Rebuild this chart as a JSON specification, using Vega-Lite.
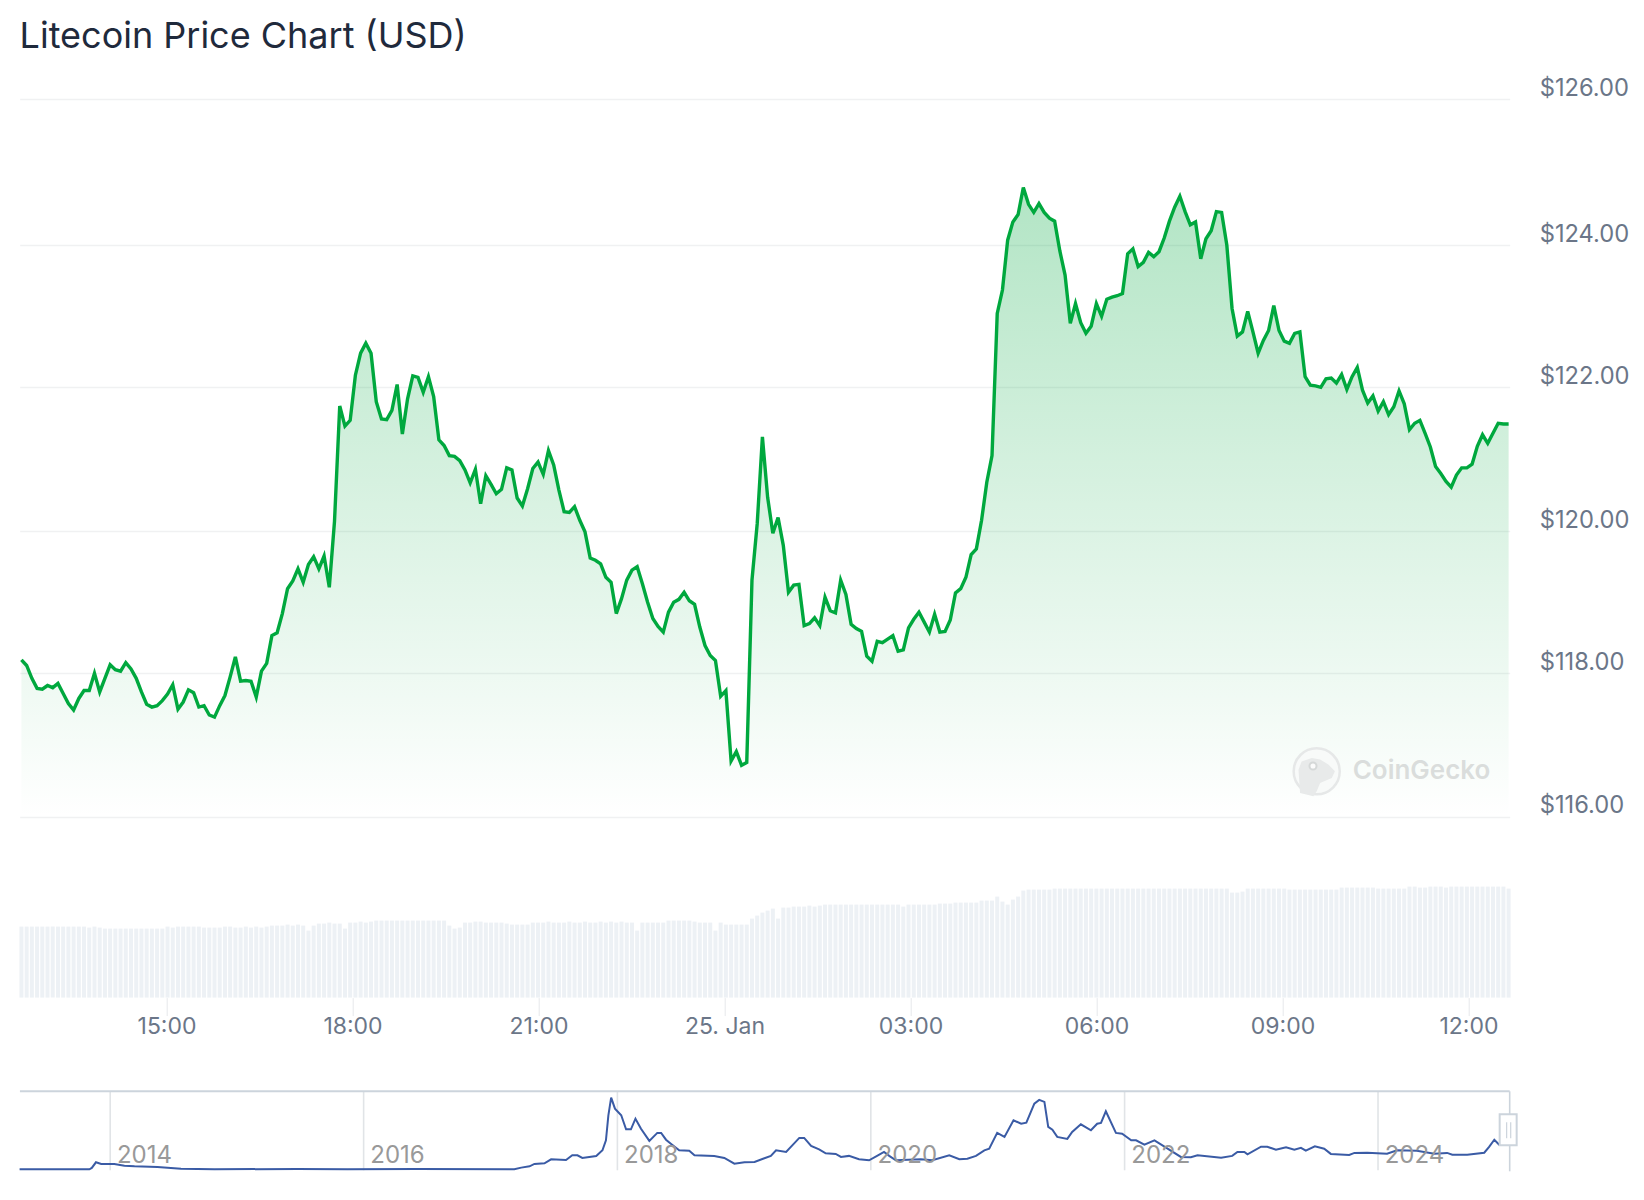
{"$schema":"https://vega.github.io/schema/vega-lite/v6.json","background":"white","padding":{"left":13.7,"top":19,"right":0,"bottom":0},"bounds":"flush","spacing":55.6,"config":{"view":{"stroke":null},"font":"Inter"},"title":{"text":"Litecoin Price Chart (USD)","anchor":"start","font":"Inter","fontSize":36,"fontWeight":400,"color":"#1f2a3c","offset":20,"dx":5},"datasets":{"prices":[
{"t":1737722376000,"price":118.19,"volume":0.71},{"t":1737722679000,"price":118.11,"volume":0.71},{"t":1737722982000,"price":117.93,"volume":0.71},{"t":1737723285000,"price":117.79,"volume":0.71},{"t":1737723588000,"price":117.78,"volume":0.71},{"t":1737723891000,"price":117.83,"volume":0.71},{"t":1737724194000,"price":117.8,"volume":0.71},{"t":1737724497000,"price":117.86,"volume":0.71},{"t":1737724800000,"price":117.72,"volume":0.71},{"t":1737725103000,"price":117.58,"volume":0.71},
{"t":1737725406000,"price":117.49,"volume":0.71},{"t":1737725709000,"price":117.65,"volume":0.71},{"t":1737726012000,"price":117.76,"volume":0.71},{"t":1737726315000,"price":117.76,"volume":0.7},{"t":1737726618000,"price":118.0,"volume":0.71},{"t":1737726921000,"price":117.74,"volume":0.7},{"t":1737727224000,"price":117.93,"volume":0.69},{"t":1737727527000,"price":118.12,"volume":0.69},{"t":1737727830000,"price":118.05,"volume":0.69},{"t":1737728133000,"price":118.03,"volume":0.69},
{"t":1737728436000,"price":118.15,"volume":0.69},{"t":1737728739000,"price":118.06,"volume":0.69},{"t":1737729042000,"price":117.93,"volume":0.69},{"t":1737729345000,"price":117.74,"volume":0.69},{"t":1737729648000,"price":117.57,"volume":0.69},{"t":1737729951000,"price":117.53,"volume":0.69},{"t":1737730254000,"price":117.55,"volume":0.69},{"t":1737730557000,"price":117.62,"volume":0.69},{"t":1737730860000,"price":117.71,"volume":0.71},{"t":1737731163000,"price":117.84,"volume":0.7},
{"t":1737731466000,"price":117.5,"volume":0.71},{"t":1737731769000,"price":117.6,"volume":0.71},{"t":1737732072000,"price":117.77,"volume":0.71},{"t":1737732375000,"price":117.73,"volume":0.71},{"t":1737732678000,"price":117.53,"volume":0.71},{"t":1737732981000,"price":117.55,"volume":0.7},{"t":1737733284000,"price":117.42,"volume":0.7},{"t":1737733587000,"price":117.39,"volume":0.7},{"t":1737733890000,"price":117.55,"volume":0.7},{"t":1737734193000,"price":117.69,"volume":0.71},
{"t":1737734496000,"price":117.95,"volume":0.71},{"t":1737734799000,"price":118.23,"volume":0.7},{"t":1737735102000,"price":117.89,"volume":0.7},{"t":1737735405000,"price":117.9,"volume":0.71},{"t":1737735708000,"price":117.89,"volume":0.7},{"t":1737736011000,"price":117.67,"volume":0.71},{"t":1737736314000,"price":118.03,"volume":0.7},{"t":1737736617000,"price":118.14,"volume":0.71},{"t":1737736920000,"price":118.53,"volume":0.72},{"t":1737737223000,"price":118.57,"volume":0.72},
{"t":1737737526000,"price":118.84,"volume":0.72},{"t":1737737829000,"price":119.19,"volume":0.73},{"t":1737738132000,"price":119.3,"volume":0.72},{"t":1737738435000,"price":119.47,"volume":0.73},{"t":1737738738000,"price":119.28,"volume":0.72},{"t":1737739041000,"price":119.53,"volume":0.67},{"t":1737739344000,"price":119.64,"volume":0.72},{"t":1737739647000,"price":119.47,"volume":0.74},{"t":1737739950000,"price":119.65,"volume":0.74},{"t":1737740253000,"price":119.21,"volume":0.75},
{"t":1737740556000,"price":120.14,"volume":0.74},{"t":1737740859000,"price":121.74,"volume":0.74},{"t":1737741162000,"price":121.46,"volume":0.69},{"t":1737741465000,"price":121.54,"volume":0.75},{"t":1737741768000,"price":122.17,"volume":0.75},{"t":1737742071000,"price":122.48,"volume":0.76},{"t":1737742374000,"price":122.62,"volume":0.75},{"t":1737742677000,"price":122.48,"volume":0.76},{"t":1737742980000,"price":121.8,"volume":0.77},{"t":1737743283000,"price":121.56,"volume":0.77},
{"t":1737743586000,"price":121.55,"volume":0.77},{"t":1737743889000,"price":121.68,"volume":0.77},{"t":1737744192000,"price":122.04,"volume":0.77},{"t":1737744495000,"price":121.35,"volume":0.77},{"t":1737744798000,"price":121.84,"volume":0.77},{"t":1737745101000,"price":122.16,"volume":0.77},{"t":1737745404000,"price":122.14,"volume":0.77},{"t":1737745707000,"price":121.93,"volume":0.77},{"t":1737746010000,"price":122.15,"volume":0.77},{"t":1737746313000,"price":121.87,"volume":0.77},
{"t":1737746616000,"price":121.27,"volume":0.77},{"t":1737746919000,"price":121.19,"volume":0.77},{"t":1737747222000,"price":121.05,"volume":0.72},{"t":1737747525000,"price":121.04,"volume":0.69},{"t":1737747828000,"price":120.98,"volume":0.7},{"t":1737748131000,"price":120.85,"volume":0.75},{"t":1737748434000,"price":120.67,"volume":0.75},{"t":1737748737000,"price":120.86,"volume":0.76},{"t":1737749040000,"price":120.38,"volume":0.76},{"t":1737749343000,"price":120.77,"volume":0.75},
{"t":1737749646000,"price":120.65,"volume":0.75},{"t":1737749949000,"price":120.52,"volume":0.75},{"t":1737750252000,"price":120.58,"volume":0.75},{"t":1737750555000,"price":120.88,"volume":0.74},{"t":1737750858000,"price":120.85,"volume":0.73},{"t":1737751161000,"price":120.46,"volume":0.73},{"t":1737751464000,"price":120.35,"volume":0.73},{"t":1737751767000,"price":120.59,"volume":0.73},{"t":1737752070000,"price":120.87,"volume":0.75},{"t":1737752373000,"price":120.96,"volume":0.75},
{"t":1737752676000,"price":120.79,"volume":0.75},{"t":1737752979000,"price":121.12,"volume":0.76},{"t":1737753282000,"price":120.92,"volume":0.75},{"t":1737753585000,"price":120.57,"volume":0.75},{"t":1737753888000,"price":120.27,"volume":0.75},{"t":1737754191000,"price":120.26,"volume":0.76},{"t":1737754494000,"price":120.34,"volume":0.75},{"t":1737754797000,"price":120.15,"volume":0.75},{"t":1737755100000,"price":119.99,"volume":0.76},{"t":1737755403000,"price":119.62,"volume":0.75},
{"t":1737755706000,"price":119.59,"volume":0.75},{"t":1737756009000,"price":119.54,"volume":0.76},{"t":1737756312000,"price":119.35,"volume":0.75},{"t":1737756615000,"price":119.28,"volume":0.76},{"t":1737756918000,"price":118.84,"volume":0.75},{"t":1737757221000,"price":119.05,"volume":0.76},{"t":1737757524000,"price":119.31,"volume":0.75},{"t":1737757827000,"price":119.45,"volume":0.75},{"t":1737758130000,"price":119.5,"volume":0.67},{"t":1737758433000,"price":119.26,"volume":0.75},
{"t":1737758736000,"price":119.0,"volume":0.75},{"t":1737759039000,"price":118.77,"volume":0.75},{"t":1737759342000,"price":118.66,"volume":0.75},{"t":1737759645000,"price":118.58,"volume":0.75},{"t":1737759948000,"price":118.86,"volume":0.77},{"t":1737760251000,"price":119.0,"volume":0.77},{"t":1737760554000,"price":119.04,"volume":0.77},{"t":1737760857000,"price":119.14,"volume":0.77},{"t":1737761160000,"price":119.02,"volume":0.77},{"t":1737761463000,"price":118.97,"volume":0.76},
{"t":1737761766000,"price":118.65,"volume":0.75},{"t":1737762069000,"price":118.39,"volume":0.75},{"t":1737762372000,"price":118.25,"volume":0.75},{"t":1737762675000,"price":118.18,"volume":0.67},{"t":1737762978000,"price":117.68,"volume":0.75},{"t":1737763281000,"price":117.76,"volume":0.73},{"t":1737763584000,"price":116.78,"volume":0.73},{"t":1737763887000,"price":116.91,"volume":0.73},{"t":1737764190000,"price":116.72,"volume":0.73},{"t":1737764493000,"price":116.76,"volume":0.73},
{"t":1737764796000,"price":119.31,"volume":0.79},{"t":1737765099000,"price":120.1,"volume":0.82},{"t":1737765402000,"price":121.31,"volume":0.85},{"t":1737765705000,"price":120.47,"volume":0.87},{"t":1737766008000,"price":119.97,"volume":0.89},{"t":1737766311000,"price":120.19,"volume":0.79},{"t":1737766614000,"price":119.8,"volume":0.9},{"t":1737766917000,"price":119.14,"volume":0.9},{"t":1737767220000,"price":119.24,"volume":0.91},{"t":1737767523000,"price":119.25,"volume":0.91},
{"t":1737767826000,"price":118.67,"volume":0.91},{"t":1737768129000,"price":118.7,"volume":0.92},{"t":1737768432000,"price":118.78,"volume":0.91},{"t":1737768735000,"price":118.67,"volume":0.92},{"t":1737769038000,"price":119.07,"volume":0.93},{"t":1737769341000,"price":118.88,"volume":0.93},{"t":1737769644000,"price":118.85,"volume":0.93},{"t":1737769947000,"price":119.31,"volume":0.93},{"t":1737770250000,"price":119.11,"volume":0.93},{"t":1737770553000,"price":118.69,"volume":0.93},
{"t":1737770856000,"price":118.63,"volume":0.93},{"t":1737771159000,"price":118.59,"volume":0.93},{"t":1737771462000,"price":118.24,"volume":0.93},{"t":1737771765000,"price":118.17,"volume":0.93},{"t":1737772068000,"price":118.45,"volume":0.93},{"t":1737772371000,"price":118.43,"volume":0.93},{"t":1737772674000,"price":118.48,"volume":0.93},{"t":1737772977000,"price":118.53,"volume":0.93},{"t":1737773280000,"price":118.31,"volume":0.93},{"t":1737773583000,"price":118.33,"volume":0.91},
{"t":1737773886000,"price":118.64,"volume":0.93},{"t":1737774189000,"price":118.76,"volume":0.93},{"t":1737774492000,"price":118.86,"volume":0.93},{"t":1737774795000,"price":118.72,"volume":0.93},{"t":1737775098000,"price":118.58,"volume":0.93},{"t":1737775401000,"price":118.83,"volume":0.93},{"t":1737775704000,"price":118.58,"volume":0.94},{"t":1737776007000,"price":118.59,"volume":0.94},{"t":1737776310000,"price":118.75,"volume":0.94},{"t":1737776613000,"price":119.13,"volume":0.95},
{"t":1737776916000,"price":119.19,"volume":0.95},{"t":1737777219000,"price":119.35,"volume":0.95},{"t":1737777522000,"price":119.67,"volume":0.95},{"t":1737777825000,"price":119.75,"volume":0.95},{"t":1737778128000,"price":120.15,"volume":0.97},{"t":1737778431000,"price":120.68,"volume":0.97},{"t":1737778734000,"price":121.05,"volume":0.97},{"t":1737779037000,"price":123.04,"volume":1.01},{"t":1737779340000,"price":123.37,"volume":0.96},{"t":1737779643000,"price":124.07,"volume":0.93},
{"t":1737779946000,"price":124.32,"volume":0.98},{"t":1737780249000,"price":124.42,"volume":1.01},{"t":1737780552000,"price":124.79,"volume":1.07},{"t":1737780855000,"price":124.56,"volume":1.08},{"t":1737781158000,"price":124.45,"volume":1.08},{"t":1737781461000,"price":124.57,"volume":1.08},{"t":1737781764000,"price":124.45,"volume":1.08},{"t":1737782067000,"price":124.37,"volume":1.08},{"t":1737782370000,"price":124.33,"volume":1.09},{"t":1737782673000,"price":123.92,"volume":1.09},
{"t":1737782976000,"price":123.58,"volume":1.09},{"t":1737783279000,"price":122.9,"volume":1.09},{"t":1737783582000,"price":123.18,"volume":1.09},{"t":1737783885000,"price":122.91,"volume":1.09},{"t":1737784188000,"price":122.76,"volume":1.09},{"t":1737784491000,"price":122.86,"volume":1.09},{"t":1737784794000,"price":123.18,"volume":1.09},{"t":1737785097000,"price":123.0,"volume":1.09},{"t":1737785400000,"price":123.24,"volume":1.09},{"t":1737785703000,"price":123.27,"volume":1.09},
{"t":1737786006000,"price":123.29,"volume":1.09},{"t":1737786309000,"price":123.32,"volume":1.09},{"t":1737786612000,"price":123.88,"volume":1.09},{"t":1737786915000,"price":123.95,"volume":1.09},{"t":1737787218000,"price":123.7,"volume":1.09},{"t":1737787521000,"price":123.76,"volume":1.09},{"t":1737787824000,"price":123.9,"volume":1.09},{"t":1737788127000,"price":123.84,"volume":1.09},{"t":1737788430000,"price":123.91,"volume":1.09},{"t":1737788733000,"price":124.1,"volume":1.09},
{"t":1737789036000,"price":124.33,"volume":1.09},{"t":1737789339000,"price":124.52,"volume":1.09},{"t":1737789642000,"price":124.67,"volume":1.09},{"t":1737789945000,"price":124.46,"volume":1.09},{"t":1737790248000,"price":124.28,"volume":1.09},{"t":1737790551000,"price":124.32,"volume":1.09},{"t":1737790854000,"price":123.81,"volume":1.09},{"t":1737791157000,"price":124.09,"volume":1.09},{"t":1737791460000,"price":124.2,"volume":1.09},{"t":1737791763000,"price":124.46,"volume":1.09},
{"t":1737792066000,"price":124.45,"volume":1.09},{"t":1737792369000,"price":124.0,"volume":1.09},{"t":1737792672000,"price":123.11,"volume":1.05},{"t":1737792975000,"price":122.72,"volume":1.05},{"t":1737793278000,"price":122.78,"volume":1.06},{"t":1737793581000,"price":123.07,"volume":1.09},{"t":1737793884000,"price":122.78,"volume":1.09},{"t":1737794187000,"price":122.48,"volume":1.09},{"t":1737794490000,"price":122.66,"volume":1.09},{"t":1737794793000,"price":122.8,"volume":1.09},
{"t":1737795096000,"price":123.15,"volume":1.09},{"t":1737795399000,"price":122.8,"volume":1.09},{"t":1737795702000,"price":122.65,"volume":1.09},{"t":1737796005000,"price":122.62,"volume":1.08},{"t":1737796308000,"price":122.76,"volume":1.08},{"t":1737796611000,"price":122.78,"volume":1.08},{"t":1737796914000,"price":122.15,"volume":1.08},{"t":1737797217000,"price":122.03,"volume":1.08},{"t":1737797520000,"price":122.02,"volume":1.08},{"t":1737797823000,"price":122.0,"volume":1.08},
{"t":1737798126000,"price":122.12,"volume":1.08},{"t":1737798429000,"price":122.13,"volume":1.08},{"t":1737798732000,"price":122.06,"volume":1.08},{"t":1737799035000,"price":122.18,"volume":1.1},{"t":1737799338000,"price":121.97,"volume":1.1},{"t":1737799641000,"price":122.15,"volume":1.1},{"t":1737799944000,"price":122.28,"volume":1.1},{"t":1737800247000,"price":121.96,"volume":1.1},{"t":1737800550000,"price":121.78,"volume":1.1},{"t":1737800853000,"price":121.88,"volume":1.1},
{"t":1737801156000,"price":121.67,"volume":1.09},{"t":1737801459000,"price":121.8,"volume":1.09},{"t":1737801762000,"price":121.62,"volume":1.09},{"t":1737802065000,"price":121.73,"volume":1.09},{"t":1737802368000,"price":121.95,"volume":1.09},{"t":1737802671000,"price":121.77,"volume":1.09},{"t":1737802974000,"price":121.41,"volume":1.11},{"t":1737803277000,"price":121.5,"volume":1.11},{"t":1737803580000,"price":121.54,"volume":1.1},{"t":1737803883000,"price":121.36,"volume":1.1},
{"t":1737804186000,"price":121.17,"volume":1.11},{"t":1737804489000,"price":120.9,"volume":1.11},{"t":1737804792000,"price":120.8,"volume":1.11},{"t":1737805095000,"price":120.69,"volume":1.1},{"t":1737805398000,"price":120.61,"volume":1.11},{"t":1737805701000,"price":120.78,"volume":1.11},{"t":1737806004000,"price":120.88,"volume":1.11},{"t":1737806307000,"price":120.88,"volume":1.11},{"t":1737806610000,"price":120.93,"volume":1.11},{"t":1737806913000,"price":121.18,"volume":1.11},
{"t":1737807216000,"price":121.34,"volume":1.11},{"t":1737807519000,"price":121.22,"volume":1.11},{"t":1737807822000,"price":121.36,"volume":1.11},{"t":1737808125000,"price":121.5,"volume":1.11},{"t":1737808428000,"price":121.49,"volume":1.11},{"t":1737808731000,"price":121.49,"volume":1.09}
],"history":[
{"date":"2013-04-15","usd":3},{"date":"2013-11-02","usd":3},{"date":"2013-11-09","usd":9.7},{"date":"2013-11-21","usd":38},{"date":"2013-12-06","usd":29.7},{"date":"2014-01-13","usd":29.7},{"date":"2014-02-11","usd":21.3},{"date":"2014-03-12","usd":18},{"date":"2014-05-17","usd":14.7},{"date":"2014-07-24","usd":6.3},{"date":"2014-10-28","usd":3},{"date":"2015-06-24","usd":4.7},{"date":"2015-11-15","usd":3},{"date":"2016-06-03","usd":4.7},{"date":"2017-03-10","usd":3},{"date":"2017-03-30","usd":11.3},{"date":"2017-04-23","usd":18},{"date":"2017-05-07","usd":29.7},{"date":"2017-06-05","usd":33},{"date":"2017-06-24","usd":53},{"date":"2017-08-06","usd":49.7},{"date":"2017-08-24","usd":73},{"date":"2017-09-08","usd":73},{"date":"2017-09-22","usd":59.7},{"date":"2017-11-01","usd":69.7},{"date":"2017-11-19","usd":98},{"date":"2017-11-29","usd":148},{"date":"2017-12-06","usd":273},{"date":"2017-12-14","usd":361},{"date":"2017-12-25","usd":306},{"date":"2018-01-12","usd":273},{"date":"2018-01-26","usd":203},{"date":"2018-02-09","usd":203},{"date":"2018-02-22","usd":256},{"date":"2018-03-10","usd":206},{"date":"2018-04-03","usd":145},{"date":"2018-04-26","usd":185},{"date":"2018-05-07","usd":185},{"date":"2018-05-21","usd":151},{"date":"2018-06-04","usd":131},{"date":"2018-06-28","usd":98},{"date":"2018-07-27","usd":96},{"date":"2018-08-11","usd":73},{"date":"2018-10-07","usd":70},{"date":"2018-11-05","usd":60},{"date":"2018-12-04","usd":31},{"date":"2019-01-02","usd":38},{"date":"2019-01-31","usd":40},{"date":"2019-03-19","usd":70},{"date":"2019-04-03","usd":98},{"date":"2019-05-02","usd":90},{"date":"2019-06-09","usd":160},{"date":"2019-06-23","usd":160},{"date":"2019-07-13","usd":120},{"date":"2019-08-05","usd":103},{"date":"2019-08-24","usd":83},{"date":"2019-09-22","usd":80},{"date":"2019-10-07","usd":65},{"date":"2019-10-30","usd":70},{"date":"2019-11-28","usd":53},{"date":"2019-12-27","usd":48},{"date":"2020-01-19","usd":70},{"date":"2020-02-08","usd":90},{"date":"2020-02-23","usd":70},{"date":"2020-03-13","usd":48},{"date":"2020-05-24","usd":53},{"date":"2020-06-26","usd":48},{"date":"2020-08-14","usd":73},{"date":"2020-09-12","usd":53},{"date":"2020-10-05","usd":56},{"date":"2020-10-30","usd":70},{"date":"2020-11-23","usd":98},{"date":"2020-12-07","usd":106},{"date":"2020-12-30","usd":185},{"date":"2021-01-20","usd":165},{"date":"2021-02-15","usd":248},{"date":"2021-03-09","usd":231},{"date":"2021-03-24","usd":236},{"date":"2021-04-16","usd":331},{"date":"2021-04-30","usd":350},{"date":"2021-05-15","usd":340},{"date":"2021-05-26","usd":215},{"date":"2021-06-07","usd":201},{"date":"2021-06-21","usd":165},{"date":"2021-07-20","usd":155},{"date":"2021-08-03","usd":190},{"date":"2021-08-28","usd":228},{"date":"2021-09-26","usd":198},{"date":"2021-10-14","usd":231},{"date":"2021-10-25","usd":235},{"date":"2021-11-08","usd":293},{"date":"2021-12-07","usd":185},{"date":"2021-12-25","usd":181},{"date":"2022-01-20","usd":148},{"date":"2022-02-03","usd":148},{"date":"2022-02-27","usd":126},{"date":"2022-03-28","usd":148},{"date":"2022-04-20","usd":123},{"date":"2022-06-12","usd":65},{"date":"2022-07-11","usd":63},{"date":"2022-07-30","usd":73},{"date":"2022-10-06","usd":61},{"date":"2022-11-07","usd":70},{"date":"2022-11-22","usd":90},{"date":"2022-12-12","usd":90},{"date":"2022-12-21","usd":78},{"date":"2023-01-29","usd":116},{"date":"2023-02-16","usd":116},{"date":"2023-03-13","usd":101},{"date":"2023-04-11","usd":113},{"date":"2023-05-05","usd":101},{"date":"2023-05-24","usd":110},{"date":"2023-06-07","usd":96},{"date":"2023-07-03","usd":118},{"date":"2023-07-30","usd":106},{"date":"2023-08-18","usd":80},{"date":"2023-10-10","usd":75},{"date":"2023-10-25","usd":85},{"date":"2023-12-01","usd":86},{"date":"2024-01-27","usd":81},{"date":"2024-02-25","usd":98},{"date":"2024-04-22","usd":96},{"date":"2024-06-11","usd":81},{"date":"2024-07-18","usd":85},{"date":"2024-08-02","usd":76},{"date":"2024-09-14","usd":76},{"date":"2024-11-02","usd":86},{"date":"2024-11-16","usd":115},{"date":"2024-12-01","usd":151},{"date":"2024-12-15","usd":126},{"date":"2025-01-11","usd":126}
],"years":[{"date":"2014-01-01","label":"2014"},{"date":"2016-01-01","label":"2016"},{"date":"2018-01-01","label":"2018"},{"date":"2020-01-01","label":"2020"},{"date":"2022-01-01","label":"2022"},{"date":"2024-01-01","label":"2024"}]},
"vconcat":[
{"width":1490,"height":718,"encoding":{"x":{"field":"t","type":"temporal","scale":{"type":"utc","domain":[1737722276000,1737808793000]},"axis":null},"y":{"field":"price","type":"quantitative","scale":{"domain":[116,118,120,122,124,126],"range":[718,574.3,432.1,288.3,146.3,0]},"axis":{"orient":"right","values":[116,118,120,122,124,126],"format":"$.2f","title":null,"domain":false,"ticks":false,"grid":true,"gridColor":"#f0f1f2","gridWidth":1.5,"labelFont":"Inter","labelFontSize":23.7,"labelColor":"#6b7688","labelPadding":29.5,"labelOffset":-11,"labelBaseline":"middle"}}},
"layer":[
{"data":{"name":"prices"},"mark":{"type":"area","line":false,"color":{"gradient":"linear","x1":0,"y1":0,"x2":0,"y2":1,"stops":[{"offset":0,"color":"rgba(0,168,62,0.3)"},{"offset":1,"color":"rgba(0,168,62,0)"}]}},"encoding":{"y2":{"datum":116}}},
{"data":{"name":"prices"},"mark":{"type":"line","color":"#00a83e","strokeWidth":3.4}},
{"data":{"values":[{"t":1737797587000,"price":116.636}]},"mark":{"type":"point","shape":"circle","filled":true,"fill":"#f8faf9","stroke":"#e6e8e8","strokeWidth":2.5,"size":2124,"opacity":1}},
{"data":{"values":[{"t":1737797587000,"price":116.636}]},"mark":{"type":"point","shape":"M -0.64 0.83 L -0.7 -0.06 L -0.58 -0.38 L -0.19 -0.51 L 0.13 -0.45 L 0.45 -0.26 L 0.7 0 L 0.58 0.26 L 0.13 0.45 L 0 0.77 L -0.13 0.96 Z","filled":true,"fill":"#e8eaea","strokeWidth":0,"size":2704,"opacity":1}},
{"data":{"values":[{"t":1737797372000,"price":116.71}]},"mark":{"type":"point","shape":"circle","filled":true,"fill":"#fbfbfb","stroke":"#d5d8d8","strokeWidth":2,"size":50,"opacity":1}},
{"data":{"values":[{"t":1737799677000,"price":116.525,"brand":"CoinGecko"}]},"mark":{"type":"text","align":"left","baseline":"alphabetic","font":"Inter","fontSize":26,"fontWeight":600,"color":"#dadddc"},"encoding":{"text":{"field":"brand"}}}
]},
{"width":1490,"height":125,"data":{"name":"prices"},"mark":{"type":"bar","size":4,"color":"#edf1f5"},"encoding":{"x":{"field":"t","type":"temporal","scale":{"type":"utc","padding":0,"domain":[1737722276000,1737808793000]},"axis":{"title":null,"values":[1737730800000,1737741600000,1737752400000,1737763200000,1737774000000,1737784800000,1737795600000,1737806400000],"labelExpr":"utchours(datum.value)===0 ? '25. Jan' : utcFormat(datum.value,'%H:%M')","domain":false,"grid":false,"ticks":true,"tickSize":18,"tickColor":"#e6e8eb","tickWidth":1,"labelFont":"Inter","labelFontSize":23,"labelColor":"#6b7688","labelPadding":0,"labelOverlap":false,"labelFlush":false}},"y":{"field":"volume","type":"quantitative","scale":{"domain":[0,1.25],"nice":false},"axis":null}}},
{"width":1490,"height":117.1,"encoding":{"x":{"field":"date","type":"temporal","scale":{"type":"utc","domain":[1366011600000,1736835631000]},"axis":null}},
"layer":[
{"data":{"name":"years"},"mark":{"type":"rule","color":"#e1e4e7","strokeWidth":1.6},"encoding":{"y":{"datum":393,"type":"quantitative","scale":{"domain":[-2,583.5],"nice":false,"zero":false},"axis":null},"y2":{"datum":-2}}},
{"data":{"values":[{"date":"2013-04-16","date2":1736835631000}]},"mark":{"type":"rule","color":"#ccd4dc","strokeWidth":2},"encoding":{"x2":{"field":"date2"},"y":{"datum":393,"type":"quantitative"}}},
{"data":{"values":[{"date":1736835631000}]},"mark":{"type":"rule","color":"#ccd4dc","strokeWidth":1.6},"encoding":{"y":{"datum":393,"type":"quantitative"},"y2":{"datum":-7}}},
{"data":{"name":"history"},"mark":{"type":"line","color":"#3a5ba5","strokeWidth":2}, "encoding":{"y":{"field":"usd","type":"quantitative"}}},
{"data":{"name":"years"},"mark":{"type":"text","align":"left","baseline":"alphabetic","dx":6.7,"font":"Inter","fontSize":24,"color":"#999999"},"encoding":{"y":{"datum":36.5,"type":"quantitative"},"text":{"field":"label"}}},
{"data":{"values":[{"date":1734342400000,"date2":1738571300000,"top":278,"bottom":123}]},"mark":{"type":"rect","fill":"#ffffff","stroke":"#ccd4dc","strokeWidth":2},"encoding":{"x2":{"field":"date2"},"y":{"field":"top","type":"quantitative"},"y2":{"field":"bottom"}}},
{"data":{"values":[{"date":1736078249000,"top":238,"bottom":158},{"date":1737088092000,"top":238,"bottom":158}]},"mark":{"type":"rule","color":"#ccd4dc","strokeWidth":1.2},"encoding":{"y":{"field":"top","type":"quantitative"},"y2":{"field":"bottom"}}}
]}
]}
